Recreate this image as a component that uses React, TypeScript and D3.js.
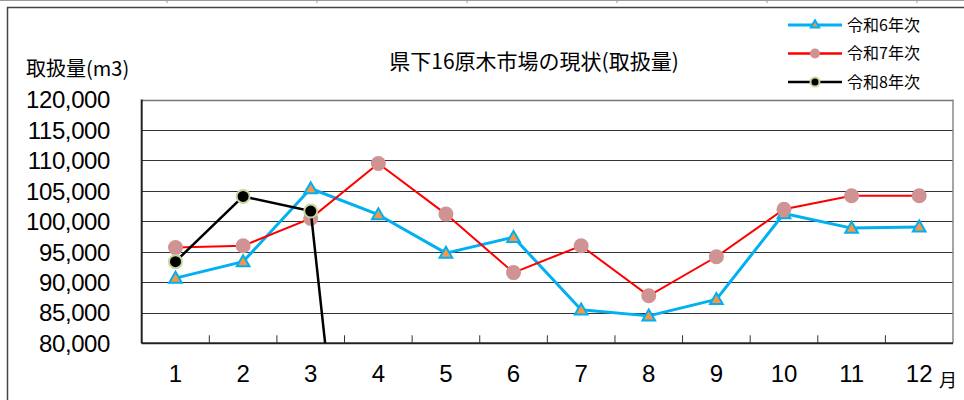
import React from 'react';
import * as d3 from 'd3';

const months = ['1', '2', '3', '4', '5', '6', '7', '8', '9', '10', '11', '12'];
const seriesNames = ['令和6年次', '令和7年次', '令和8年次'];
const r6 = [90700, 93400, 105400, 101100, 94800, 97400, 85500, 84500, 87200, 101300, 98900, 99100];
const r7 = [95700, 96000, 100500, 109500, 101200, 91600, 96000, 87800, 94200, 102000, 104200, 104200];
const r8: (number | null)[] = [93400, 104100, 101700, 0, null, null, null, null, null, null, null, null];
const yTicks = [80000, 85000, 90000, 95000, 100000, 105000, 110000, 115000, 120000];
const title = '県下16原木市場の現状(取扱量)';
const yTitle = '取扱量(m3)';
const xUnit = '月';

const W = 964;
const H = 400;
const plot = { left: 141.7, right: 953, top: 99.5, bottom: 343.3 };
const numFont = '"Liberation Sans", Arial, sans-serif';
const jpFont = '"Noto Sans CJK JP", "Noto Sans", sans-serif';

export default function App() {
  const x = d3.scaleBand<string>().domain(months).range([plot.left, plot.right]);
  const y = d3.scaleLinear().domain([80000, 120000]).range([plot.bottom, plot.top]);
  const cx = (i: number) => (x(months[i]) as number) + x.bandwidth() / 2;

  const line = d3
    .line<number | null>()
    .defined((d) => d !== null)
    .x((_, i) => cx(i))
    .y((d) => y(d as number));

  const tri = d3.symbol().type(d3.symbolTriangle).size(70)();
  const triLegend = d3.symbol().type(d3.symbolTriangle).size(30)();

  const boundaries = d3.range(1, months.length).map((i) => x(months[i]) as number);
  const topMarks = d3.range(0, 6).map((k) => 167 + 150 * k);

  return (
    <svg
      width={W}
      height={H}
      style={{ position: 'absolute', left: 0, top: 0, display: 'block', background: '#fff' }}
    >
      <defs>
        <clipPath id="plotclip">
          <rect x={plot.left} y={plot.top - 10} width={plot.right - plot.left} height={plot.bottom - plot.top + 10} />
        </clipPath>
      </defs>
      {/* outer frame remnants */}
      <line x1={0} x2={W} y1={0.5} y2={0.5} stroke="#999" strokeWidth={1} />
      {topMarks.map((m) => (
        <line key={m} x1={m} x2={m} y1={0} y2={3} stroke="#999" strokeWidth={1} />
      ))}
      <line x1={7} x2={W} y1={7.5} y2={7.5} stroke="#444" strokeWidth={1.5} />
      <line x1={7.5} x2={7.5} y1={7} y2={H} stroke="#444" strokeWidth={1.5} />

      {/* gridlines */}
      {yTicks.map((t) => (
        <line
          key={t}
          x1={plot.left}
          x2={plot.right}
          y1={Math.round(y(t)) + 0.5}
          y2={Math.round(y(t)) + 0.5}
          stroke={t === 120000 ? '#777' : '#333'}
          strokeWidth={t === 120000 ? 1.5 : 1}
        />
      ))}
      {/* plot borders */}
      <line x1={plot.left} x2={plot.left} y1={plot.top} y2={plot.bottom} stroke="#222" strokeWidth={2} />
      <line x1={plot.right} x2={plot.right} y1={plot.top} y2={plot.bottom} stroke="#888" strokeWidth={1.5} />
      <line x1={plot.left} x2={plot.right} y1={plot.bottom} y2={plot.bottom} stroke="#222" strokeWidth={2} />
      {boundaries.map((b, i) => (
        <line key={i} x1={b} x2={b} y1={plot.bottom - 8} y2={plot.bottom} stroke="#333" strokeWidth={1} />
      ))}

      {/* y tick labels */}
      {yTicks.map((t) => (
        <text
          key={t}
          x={110}
          y={y(t)}
          dy="0.36em"
          textAnchor="end"
          fontFamily={numFont}
          fontSize={24}
          letterSpacing={-0.4}
          fill="#000"
        >
          {d3.format(',')(t)}
        </text>
      ))}
      {/* x tick labels */}
      {months.map((m, i) => (
        <text
          key={m}
          x={cx(i)}
          y={373}
          dy="0.36em"
          textAnchor="middle"
          fontFamily={numFont}
          fontSize={24}
          fill="#000"
        >
          {m}
        </text>
      ))}
      <text x={939} y={387} fontFamily={jpFont} fontSize={18} fill="#000">
        {xUnit}
      </text>

      {/* titles */}
      <text x={534} y={61} dy="0.36em" textAnchor="middle" fontFamily={jpFont} fontSize={21} fill="#000">
        {title}
      </text>
      <text x={26} y={69} dy="0.36em" fontFamily={jpFont} fontSize={20} fill="#000">
        {yTitle}
      </text>

      {/* series */}
      <g clipPath="url(#plotclip)">
        <path d={line(r6) || ''} fill="none" stroke="#00B0F0" strokeWidth={3} strokeLinejoin="round" />
        {r6.map((v, i) => (
          <path
            key={i}
            d={tri || ''}
            transform={`translate(${cx(i)},${y(v) + 1})`}
            fill="#F79646"
            stroke="#00B0F0"
            strokeWidth={2}
          />
        ))}
        <path d={line(r7) || ''} fill="none" stroke="#FF0000" strokeWidth={2} />
        {r7.map((v, i) => (
          <circle key={i} cx={cx(i)} cy={y(v)} r={7.5} fill="#D09393" />
        ))}
        <path d={line(r8) || ''} fill="none" stroke="#000" strokeWidth={2.5} />
        {r8.map((v, i) =>
          v === null || v < 80000 ? null : (
            <circle key={i} cx={cx(i)} cy={y(v)} r={6.5} fill="#000" stroke="#C4D79B" strokeWidth={2} />
          )
        )}
      </g>

      {/* legend */}
      {seriesNames.map((name, k) => {
        const ly = 25 + k * 28.5;
        const color = ['#00B0F0', '#FF0000', '#000'][k];
        return (
          <g key={name}>
            <line x1={788} x2={842} y1={ly} y2={ly} stroke={color} strokeWidth={k === 0 ? 3 : 2.5} />
            {k === 0 && (
              <path d={triLegend || ''} transform={`translate(815,${ly})`} fill="#F79646" stroke="#00B0F0" strokeWidth={2} />
            )}
            {k === 1 && <circle cx={815} cy={ly} r={5} fill="#D09393" />}
            {k === 2 && <circle cx={815} cy={ly} r={4.5} fill="#000" stroke="#C4D79B" strokeWidth={2} />}
            <text x={847} y={ly} dy="0.36em" fontFamily={jpFont} fontSize={16} fill="#000">
              {name}
            </text>
          </g>
        );
      })}
    </svg>
  );
}
